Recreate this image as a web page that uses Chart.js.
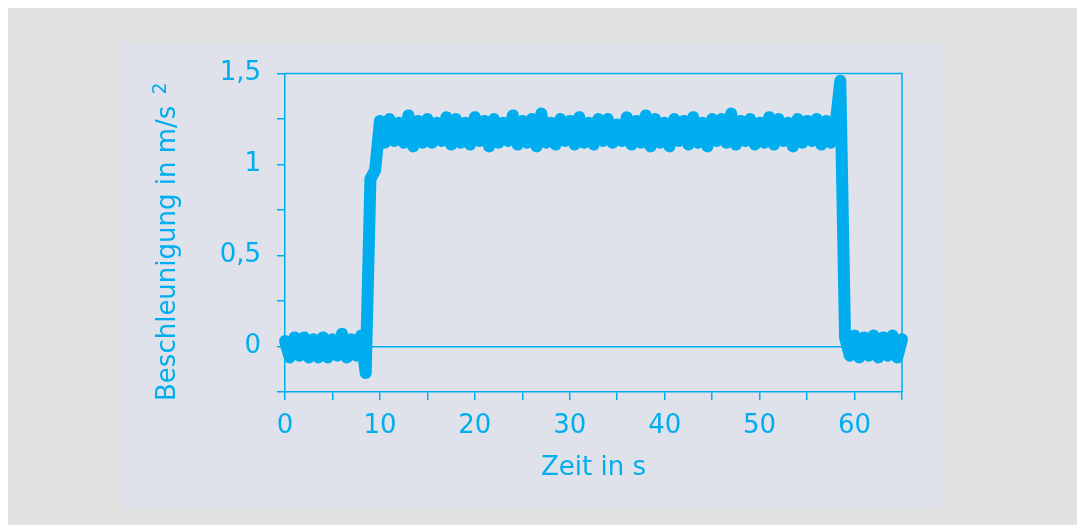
<!DOCTYPE html>
<html>
<head>
<meta charset="utf-8">
<script src="https://cdn.jsdelivr.net/npm/chart.js@4/dist/chart.umd.min.js"></script>
<style>
  html, body { margin: 0; height: 100%; background: #fff; }
  #grau { position: absolute; left: 8px; top: 8px; right: 0; bottom: 0; background: #e1e2df; }
  #feld { position: absolute; left: 119px; top: 42px; width: 823px; height: 467px; background: #dfe2ea; }
</style>
</head>
<body>
<div id="grau"></div>
<div id="feld"><canvas id="kurve" width="823" height="467"></canvas></div>
<script>
var blau = '#00aeef';

var abtastzeit = 0.5;
var beschleunigung = [
  0.03, -0.06, 0.05, -0.05, 0.05, -0.06, 0.04, -0.06, 0.05, -0.06,
  0.04, -0.05, 0.07, -0.06, 0.04, -0.05, 0.06,
  -0.145, 0.92, 0.97, 1.24,
  1.12, 1.25, 1.13, 1.23, 1.12, 1.27, 1.10, 1.24, 1.12, 1.25,
  1.12, 1.23, 1.13, 1.26, 1.11, 1.25, 1.12, 1.23, 1.11, 1.26,
  1.13, 1.24, 1.10, 1.25, 1.12, 1.23, 1.13, 1.27, 1.11, 1.24,
  1.12, 1.25, 1.10, 1.28, 1.12, 1.23, 1.11, 1.25, 1.13, 1.24,
  1.11, 1.26, 1.12, 1.23, 1.11, 1.25, 1.13, 1.25, 1.12, 1.22,
  1.13, 1.26, 1.11, 1.24, 1.12, 1.27, 1.10, 1.25, 1.12, 1.23,
  1.10, 1.25, 1.13, 1.24, 1.11, 1.26, 1.12, 1.23, 1.10, 1.25,
  1.13, 1.25, 1.12, 1.28, 1.11, 1.24, 1.13, 1.25, 1.11, 1.23,
  1.12, 1.26, 1.11, 1.25, 1.13, 1.23, 1.10, 1.25, 1.12, 1.24,
  1.13, 1.25, 1.11, 1.24, 1.12, 1.22,
  1.46, 0.05,
  -0.05, 0.06, -0.06, 0.05, -0.05, 0.06, -0.06, 0.05, -0.05, 0.06,
  -0.06, 0.04
];

var xBeschriftung = [0, 10, 20, 30, 40, 50, 60];
var yBeschriftung = [0, 0.5, 1, 1.5];
var yTitel = 'Beschleunigung in m/s';
var yTitelHoch = '2';

var punkte = beschleunigung.map(function (a, i) {
  return { x: i * abtastzeit, y: a };
});

// oberer und rechter Rahmen, dazu die Achsenbeschriftung links mit hochgestellter 2
var rahmen = {
  id: 'rahmen',
  afterDraw: function (chart) {
    var a = chart.chartArea, ctx = chart.ctx;
    ctx.save();
    ctx.strokeStyle = blau;
    ctx.lineWidth = 1.5;
    ctx.beginPath();
    ctx.moveTo(a.left, a.top);
    ctx.lineTo(a.right, a.top);
    ctx.lineTo(a.right, a.bottom);
    ctx.stroke();

    ctx.fillStyle = blau;
    ctx.translate(56, 359);
    ctx.rotate(-Math.PI / 2);
    ctx.textAlign = 'left';
    ctx.textBaseline = 'alphabetic';
    ctx.font = "26px 'DejaVu Sans'";
    ctx.fillText(yTitel, 0, 0);
    var w = ctx.measureText(yTitel).width;
    ctx.font = "19px 'DejaVu Sans'";
    ctx.fillText(yTitelHoch, w + 11, -9);
    ctx.restore();
  }
};

Chart.defaults.font.family = "'DejaVu Sans'";
Chart.defaults.font.size = 26;
Chart.defaults.color = blau;

new Chart(document.getElementById('kurve'), {
  type: 'line',
  data: {
    datasets: [{
      data: punkte,
      borderColor: blau,
      backgroundColor: blau,
      borderWidth: 12,
      pointRadius: 0,
      borderJoinStyle: 'round',
      borderCapStyle: 'round',
      tension: 0,
      clip: 8
    }]
  },
  options: {
    responsive: false,
    animation: false,
    layout: { padding: { top: 24, right: 40, left: 0, bottom: 0 } },
    plugins: { legend: { display: false }, tooltip: { enabled: false } },
    scales: {
      x: {
        type: 'linear',
        min: 0,
        max: 65,
        afterFit: function (s) { s.height = 117; },
        ticks: {
          stepSize: 5,
          autoSkip: false,
          maxRotation: 0,
          padding: 11,
          callback: function (v) { return xBeschriftung.indexOf(v) >= 0 ? String(v) : ''; }
        },
        grid: { drawOnChartArea: false, color: blau, tickColor: blau, tickLength: 8, lineWidth: 1.5 },
        border: { color: blau, width: 1.5 },
        title: { display: true, text: 'Zeit in s', padding: { top: 0, bottom: 25 } }
      },
      y: {
        min: -0.25,
        max: 1.5,
        afterFit: function (s) { s.width = 166; },
        ticks: {
          stepSize: 0.25,
          autoSkip: false,
          padding: 16,
          callback: function (v) {
            return yBeschriftung.indexOf(v) >= 0 ? String(v).replace('.', ',') : '';
          }
        },
        grid: {
          drawOnChartArea: true,
          color: function (c) { return c.tick && c.tick.value === 0 ? blau : 'transparent'; },
          tickColor: blau,
          tickLength: 8,
          lineWidth: 1.5
        },
        border: { color: blau, width: 1.5 },
        title: { display: false }
      }
    }
  },
  plugins: [rahmen]
});
</script>
</body>
</html>
